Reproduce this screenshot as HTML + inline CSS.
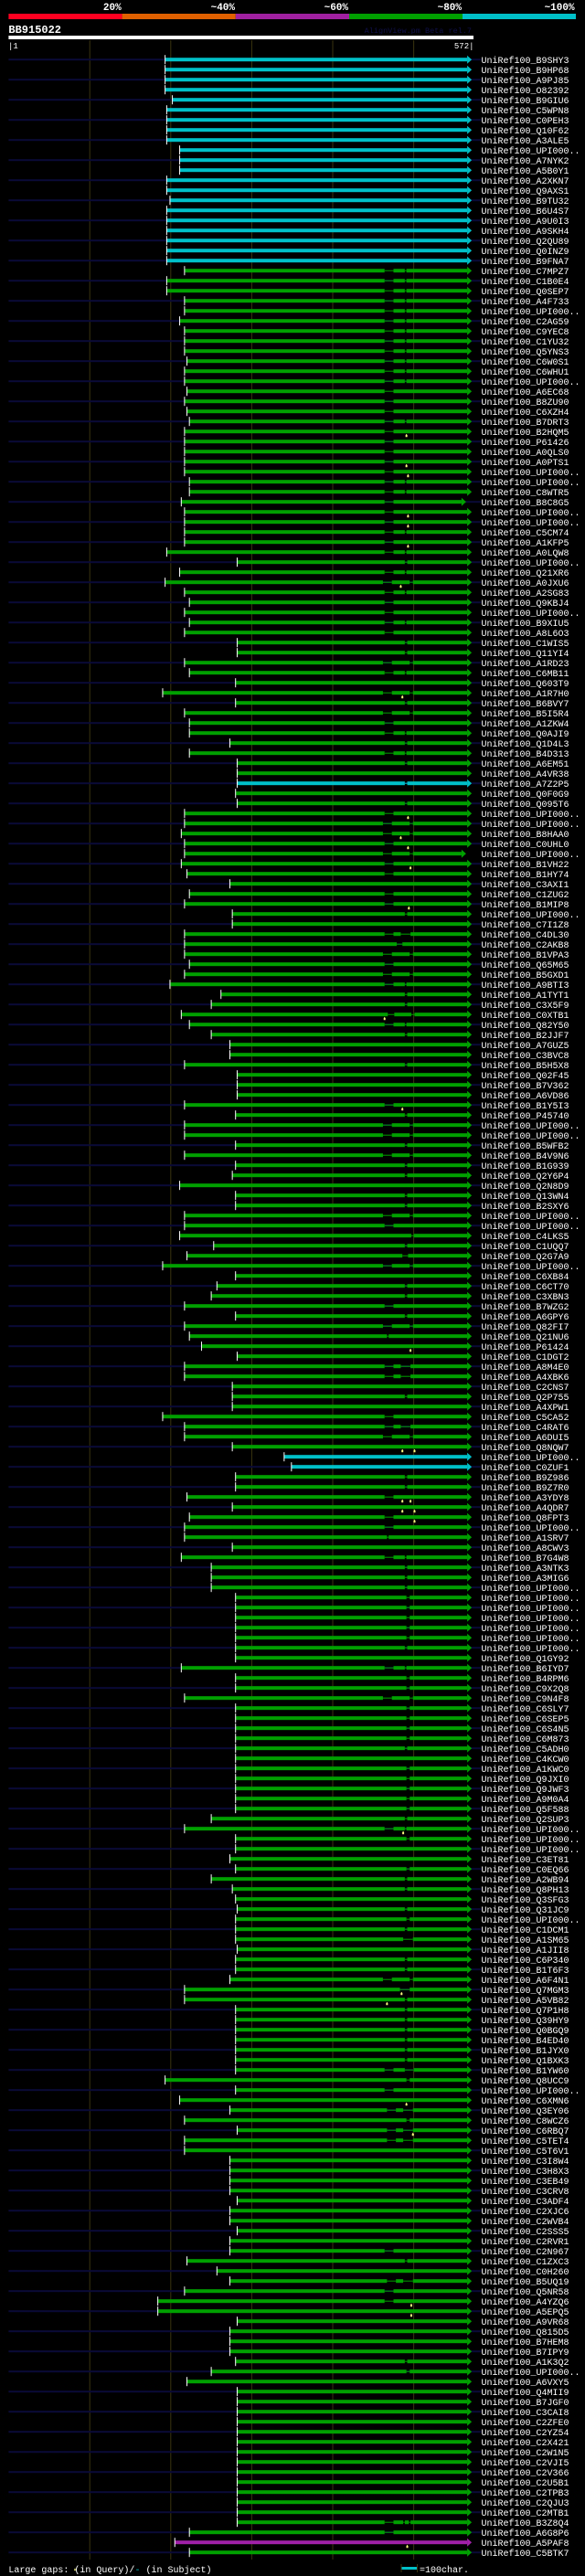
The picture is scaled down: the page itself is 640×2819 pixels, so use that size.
<!DOCTYPE html>
<html><head><meta charset="utf-8"><title>AlignView BB915022</title>
<style>
html,body{margin:0;padding:0;background:#000;}
svg{display:block;}
text{font-family:"Liberation Mono","DejaVu Sans Mono",monospace;}
</style></head>
<body>
<svg id="chart" width="640" height="2819" viewBox="0 0 640 2819" xmlns="http://www.w3.org/2000/svg">
<rect x="0" y="0" width="640" height="2819" fill="#000"/>
<g id="header">
<text x="132.7" y="11" fill="#fff" font-size="11" font-weight="bold" text-anchor="end">20%</text>
<text x="257" y="11" fill="#fff" font-size="11" font-weight="bold" text-anchor="end">~40%</text>
<text x="381" y="11" fill="#fff" font-size="11" font-weight="bold" text-anchor="end">~60%</text>
<text x="505" y="11" fill="#fff" font-size="11" font-weight="bold" text-anchor="end">~80%</text>
<text x="628.6" y="11" fill="#fff" font-size="11" font-weight="bold" text-anchor="end">~100%</text>
<rect x="9.4" y="15" width="124.2" height="6" fill="#ff0020"/>
<rect x="133.6" y="15" width="124.2" height="6" fill="#e06000"/>
<rect x="257.8" y="15" width="124.2" height="6" fill="#a020a0"/>
<rect x="382" y="15" width="124" height="6" fill="#00a000"/>
<rect x="506" y="15" width="124" height="6" fill="#00c0c8"/>
<text x="9.4" y="36" fill="#fff" font-size="12" font-weight="bold">BB915022</text>
<text x="516" y="36" fill="#10104a" font-size="8.5" text-anchor="end">AlignView.pm Beta rel.7</text>
<rect x="9.4" y="39" width="508.6" height="4" fill="#fff"/>
<text x="9" y="53" fill="#fff" font-size="9">|1</text>
<text x="518.5" y="53" fill="#fff" font-size="9" text-anchor="end">572|</text>
</g>
<g id="grid"></g>
<g id="rows"></g>
<g id="footer">
<text x="9.4" y="2815" fill="#fff" font-size="10">Large gaps:<tspan fill="#000"> </tspan>(in Query)/<tspan fill="#00c0c8">-</tspan> (in Subject)</text>
<polygon points="81,2813 82,2810 83,2813" fill="#ffff80"/>
<rect x="439" y="2809" width="17" height="3" fill="#00c0c8"/>
<rect x="438.5" y="2806" width="1" height="9" fill="#3a3410"/>
<rect x="456" y="2806" width="1" height="9" fill="#3a3410"/>
<text x="459" y="2815" fill="#fff" font-size="10">=100char.</text>
</g>
</svg>
<script>
const U = 'UPI000..';
const ids = ['B9SHY3','B9HP68','A9PJ85','O82392','B9GIU6','C5WPN8','C0PEH3','Q10F62','A3ALE5',U,'A7NYK2','A5B0Y1','A2XKN7','Q9AXS1','B9TU32','B6U4S7','A9U0I3','A9SKH4','Q2QU89','Q0INZ9','B9FNA7',
'C7MPZ7','C1B0E4','Q0SEP7','A4F733',U,'C2AG59','C9YEC8',
'C1YU32','Q5YNS3','C6W0S1','C6WHU1',U,'A6EC68','B8ZU90','C6XZH4','B7DRT3','B2HQM5','P61426','A0QLS0','A0PTS1',U,U,'C8WTR5','B8C8G5',U,U,'C5CM74','A1KFP5','A0LQW8',U,'Q21XR6','A0JXU6','A2SG83','Q9KBJ4',
U,'B9XIU5','A8L6O3','C1WIS5','Q11YI4','A1RD23','C6MB11','Q603T9','A1R7H0','B6BVY7','B5I5R4','A1ZKW4','Q0AJI9','Q1D4L3','B4D313','A6EM51','A4VR38','A7Z2P5','Q0F0G9','Q095T6',U,U,'B8HAA0','C0UHL0',U,'B1VH22','B1HY74','C3AXI1',
'C1ZUG2','B1MIP8',U,'C7I1Z8','C4DL30','C2AKB8','B1VPA3','Q65M65','B5GXD1','A9BTI3','A1TYT1','C3X5F9','C0XTB1','Q82Y50','B2JJF7','A7GUZ5','C3BVC8','B5H5X8','Q02F45','B7V362','A6VD86','B1Y5I3','P45740',U,U,'B5WFB2','B4V9N6','B1G939',
'Q2Y6P4','Q2N8D9','Q13WN4','B2SXY6',U,U,'C4LKS5','C1UQQ7','Q2G7A9',U,'C6XB84','C6CT70','C3XBN3','B7WZG2','A6GPY6','Q82FI7','Q21NU6','P61424','C1DGT2','A8M4E0','A4XBK6','C2CNS7','Q2P755','A4XPW1','C5CA52','C4RAT6','A6DUI5','Q8NQW7',
U,'C0ZUF1','B9Z986','B9Z7R0','A3YDY8','A4QDR7','Q8FPT3',U,'A1SRV7','A8CWV3','B7G4W8','A3NTK3','A3MIG6',U,U,U,U,U,U,U,'Q1GY92','B6IYD7','B4RPM6','C9X2Q8','C9N4F8','C6SLY7','C6SEP5',
'C6S4N5','C6M873','C5ADH0','C4KCW0','A1KWC0','Q9JXI0','Q9JWF3','A9M0A4','Q5F588','Q2SUP3',U,U,U,'C3ET81','C0EQ66','A2WB94','Q8PH13','Q3SFG3','Q31JC9',U,'C1DCM1','A1SM65','A1JII8','C6P340','B1T6F3','A6F4N1','Q7MGM3','A5VB82',
'Q7P1H8','Q39HY9','Q0BGQ9','B4ED40','B1JYX0','Q1BXK3','B1YW60','Q8UCC9',U,'C6XMN6','Q3EY06','C8WCZ6','C6RBQ7','C5TET4','C5T6V1','C3I8W4','C3H8X3','C3EB49','C3CRV8','C3ADF4','C2XJC6','C2WVB4','C2SSS5','C2RVR1','C2N967','C1ZXC3','C0H260','B5UQ19',
'Q5NR58','A4YZQ6','A5EPQ5','A9VR68','Q815D5','B7HEM8','B7IPY9','A1K3Q2',U,'A6VXY5','Q4MII9','B7JGF0','C3CAI8','C2ZFE0','C2YZ54','C2X421','C2W1N5','C2VJI5','C2V366','C2U5B1','C2TPB3','C2QJU3','C2MTB1','B3Z8Q4','A6G8P6','A5PAF8','C5BTK7'];

const starts = [193,193,193,193,202,195,195,195,195,211,211,211,195,195,199,195,195,195,195,195,195,
217,195,195,217,217,211,217,
217,217,220,217,217,220,217,220,223,217,217,217,217,217,223,223,213,217,217,217,217,195,282,211,193,217,223,
217,223,217,282,282,217,223,280,190,280,217,223,223,273,223,282,282,282,280,282,217,217,213,217,217,213,220,273,
223,217,276,276,217,217,217,223,217,199,262,250,213,223,250,273,273,217,282,282,282,217,280,217,217,280,217,280,
276,211,280,280,217,217,211,253,220,190,280,257,250,217,280,217,223,238,282,217,217,276,276,276,190,217,217,276,
340,349,280,280,220,276,223,217,217,276,213,250,250,250,280,280,280,280,280,280,280,213,280,280,217,280,280,
280,280,280,280,280,280,280,280,280,250,217,280,280,273,280,250,276,280,282,280,280,280,282,280,280,273,217,217,
280,280,280,280,280,280,280,193,280,211,273,217,282,217,217,273,273,273,273,282,273,273,282,273,273,220,257,273,
217,184,184,282,273,273,273,280,250,220,282,282,282,282,282,282,282,282,282,282,282,282,282,282,223,205,223];

const patterns = ('nnnnnnnnnnnnnnnnnnnnn' + 'aaaaaaaaaaaa' + 'bbbabbbbbaabbbabacadab' +
  'babccdandcdbacacncncbddbdbbn' + 'bbcnegdbdacchacnncnnnbcddcdc' + 'cnccdbkcldnccbcdmnneencnbedn' +
  'nnccbnbbmnacccqqqqqcnaqqdqq' + 'qqcnqqqqqcaqnnqccncqcrnccds' + 'cccccccfqbnoqoonnnnnnnnnnbcn' +
  'obbnnnnncqnnnnnnnnnnnnnnpbn').split('');

const gapA = [[464,475],[489,491]];
const gapB = [[464,475]];
const gapC = [[489,492]];
const gapD = [[462,473],[495,499]];
const gapE = [[464,475],[484,496]];
const gapF = [[464,475],[489,500]];
const gapG = [[479,486]];
const gapH = [[468,476],[497,501]];
const gapK = [[497,500]];
const gapL = [[486,493]];
const gapM = [[467,469]];
const gapO = [[467,478],[487,499]];
const gapP = [[464,475],[487,489],[494,496]];
const gapQ = [[491,495]];
const gapR = [[487,499]];
const gapS = [[483,495]];
const gapN = [];
const gapLookup = {a:gapA,b:gapB,c:gapC,d:gapD,e:gapE,f:gapF,g:gapG,h:gapH,k:gapK,l:gapL,m:gapM,o:gapO,p:gapP,q:gapQ,r:gapR,s:gapS,n:gapN};

const cyanRows = [0,1,2,3,4,5,6,7,8,9,10,11,12,13,14,15,16,17,18,19,20,72,139,140];
const purpleRows = [247];
const shortEndRows = [44,79];
const defaultEnd = 566;
const shortEnd = 559;
const markerRows = [37,40,41,45,46,48,52,63,75,77,78,80,84,95,104,128,138,138,143,143,144,144,145,176,192,193,203,206,223,224,247];
const markerPos  = [491,491,493,493,493,493,484,486,493,484,493,496,494,464,486,496,486,501,486,496,486,501,501,487,485,467,491,499,497,497,492];
const gridTicks = [100,200,300,400,500];

const NS = 'http://www.w3.org/2000/svg';
function xPos(p){ return 10.5 + (p - 1) * 0.886; }
function yRow(i){ return 65.2 + 11 * i; }
function mk(tag, attrs, parent){
  const el = document.createElementNS(NS, tag);
  for (const k in attrs) el.setAttribute(k, attrs[k]);
  parent.appendChild(el);
  return el;
}

const grid = document.getElementById('grid');
gridTicks.forEach(function(t){
  const el = mk('rect', {x: xPos(t) - 0.5, y: 44, width: 1, height: 2757, fill: '#3a3410'}, grid);
  
  
});

const rows = document.getElementById('rows');
ids.forEach(function(id, i){
  const y = yRow(i);
  const g = mk('g', {}, rows);
  
  
  if (i % 2 === 0) {
    const st = mk('rect', {x: 9.4, y: y - 1, width: 517, height: 2, fill: '#0a0a38'}, g);
    
    
  }
  const color = purpleRows.indexOf(i) >= 0 ? '#a020a8' : (cyanRows.indexOf(i) >= 0 ? '#00c0c8' : '#00a000');
  const s = starts[i];
  const e = shortEndRows.indexOf(i) >= 0 ? shortEnd : defaultEnd;
  const gaps = gapLookup[patterns[i]] || [];
  let cur = s;
  gaps.forEach(function(gp){
    const seg = mk('rect', {x: xPos(cur), y: y - 2, width: Math.max(0, xPos(gp[0]) - xPos(cur)), height: 4, fill: color}, g);
    
    
    const thin = mk('rect', {x: xPos(gp[0]), y: y - 0.5, width: xPos(gp[1]) - xPos(gp[0]), height: 1, fill: color}, g);
    
    
    cur = gp[1];
  });
  const last = mk('rect', {x: xPos(cur), y: y - 2, width: Math.max(0, xPos(e) - xPos(cur)), height: 4, fill: color}, g);
  
  
  const xe = xPos(e);
  const arrow = mk('polygon', {points: xe + ',' + (y - 4.5) + ' ' + (xe + 5) + ',' + y + ' ' + xe + ',' + (y + 4.5), fill: color}, g);
  
  
  const tick = mk('rect', {x: xPos(s) - 0.5, y: y - 5, width: 1, height: 10, fill: '#fff'}, g);
  
  
  const t = mk('text', {x: 526.5, y: y + 3.7, fill: '#fff', 'font-size': 10}, g);
  t.textContent = 'UniRef100_' + id;
  
  
});

markerRows.forEach(function(r, k){
  const y = yRow(r);
  const x = xPos(markerPos[k]);
  const m = mk('polygon', {points: (x - 1) + ',' + (y + 6) + ' ' + (x - 1) + ',' + (y + 4) + ' ' + x + ',' + (y + 2.5) + ' ' + (x + 1) + ',' + (y + 4) + ' ' + (x + 1) + ',' + (y + 6), fill: '#ffff80'}, rows);
  
  
});
</script>
</body></html>
